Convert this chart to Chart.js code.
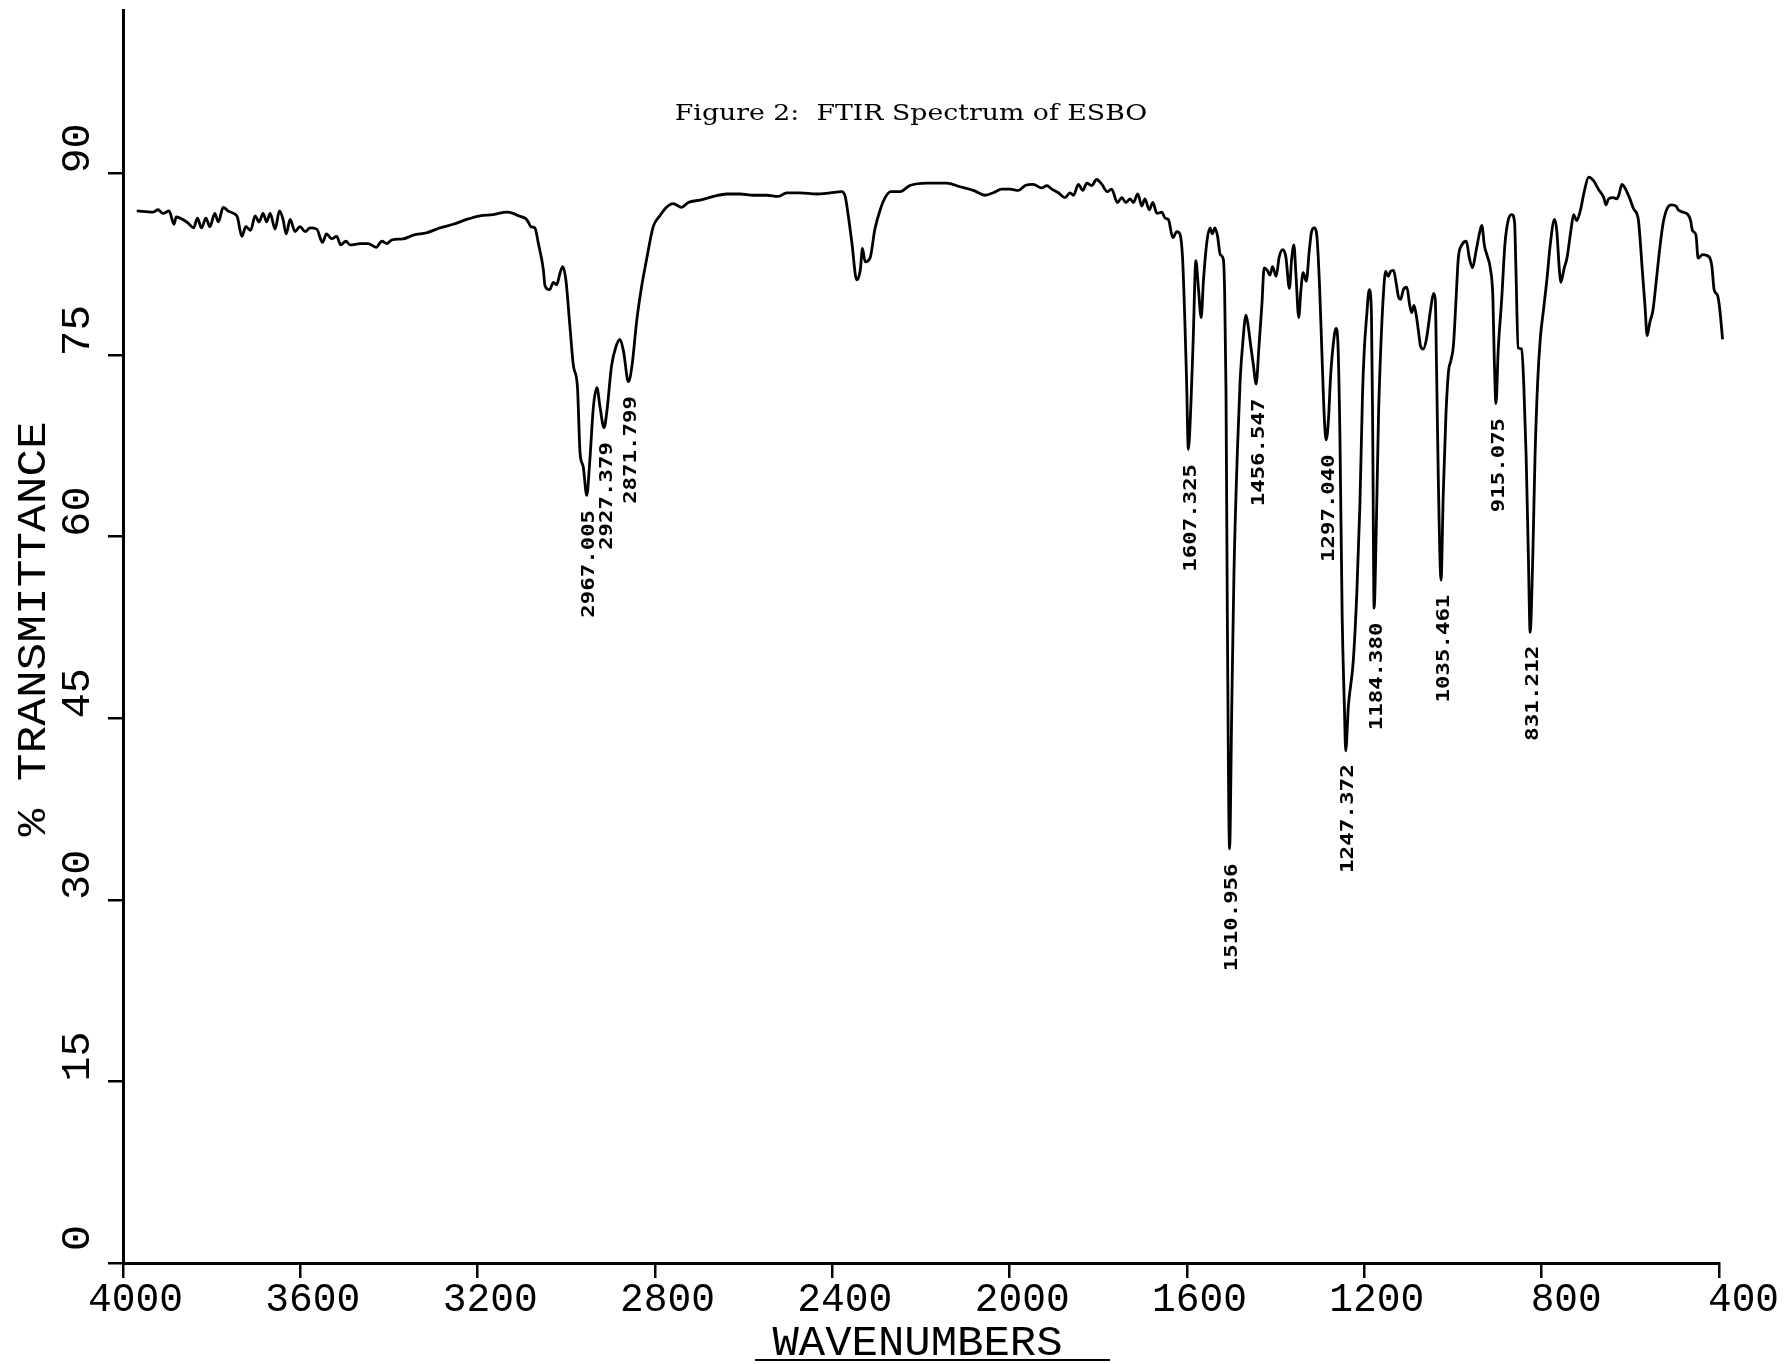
<!DOCTYPE html>
<html>
<head>
<meta charset="utf-8">
<script src="https://cdn.jsdelivr.net/npm/chart.js@4/dist/chart.umd.min.js"></script>
<style>
html,body{margin:0;padding:0;background:#fff;}
#c{display:block;}
</style>
</head>
<body>
<canvas id="c" width="1788" height="1364"></canvas>
<script>
// ---- data ----
const wavenumbers = [
3969,3932,3921,3910,3896,3885,3880,3865,3853,3841,
3832,3823,3813,3804,3793,3785,3774,3763,3751,3742,
3732,3723,3712,3702,3693,3684,3676,3668,3657,3647,
3639,3632,3623,3612,3601,3589,3578,3563,3550,3541,
3529,3518,3509,3497,3488,3465,3447,3429,3416,3405,
3394,3368,3345,3315,3285,3255,3225,3195,3165,3134,
3120,3108,3093,3086,3080,3071,3063,3052,3048,3038,
3029,3022,3014,3008,3001,2992,2984,2975,2969,2962,
2954,2947,2939,2931,2924,2915,2909,2898,2888,2879,
2871,2860,2852,2841,2830,2819,2804,2789,2774,2759,
2740,2725,2698,2668,2638,2608,2578,2548,2522,2503,
2473,2435,2405,2379,2371,2364,2356,2345,2337,2332,
2326,2315,2304,2292,2281,2268,2247,2225,2187,2142,
2112,2082,2055,2037,2018,1999,1980,1965,1947,1928,
1916,1905,1890,1875,1864,1856,1845,1835,1826,1815,
1804,1792,1780,1770,1757,1747,1738,1728,1721,1711,
1702,1695,1685,1677,1668,1657,1649,1642,1632,1623,
1616,1610,1605,1601,1597,1591,1586,1580,1574,1568,
1563,1555,1548,1543,1537,1531,1525,1518,1515,1512,
1509,1504,1499,1494,1486,1480,1474,1467,1462,1456,
1450,1444,1438,1431,1426,1419,1413,1407,1399,1392,
1384,1377,1369,1364,1359,1354,1348,1343,1338,1331,
1324,1319,1313,1307,1301,1296,1290,1286,1281,1276,
1270,1264,1260,1255,1250,1245,1242,1236,1225,1217,
1210,1204,1200,1195,1189,1184,1181,1178,1173,1168,
1163,1157,1152,1146,1141,1134,1128,1123,1118,1112,
1104,1098,1093,1088,1083,1078,1073,1067,1060,1050,
1044,1040,1037,1033,1027,1022,1016,1010,1005,999,
993,988,980,970,963,956,948,940,935,929,
922,916,910,907,903,898,890,883,875,867,
861,858,853,845,840,835,830,826,820,815,
809,803,796,788,781,771,766,760,757,749,
743,734,728,721,713,704,694,683,672,660,
655,649,638,631,626,619,612,601,593,582,
578,573,567,562,556,549,541,533,526,517,
507,497,492,481,470,464,460,452,447,437,
422,416,411,403,398,392
];
const transmittance = [
86.9,86.8,87.0,86.7,86.9,85.8,86.4,86.2,85.9,85.5,
86.3,85.5,86.3,85.6,86.7,86.0,87.2,86.9,86.7,86.4,
84.8,85.6,85.3,86.5,86.0,86.7,86.0,86.7,85.4,86.9,
86.2,85.0,86.2,85.2,85.6,85.2,85.5,85.4,84.3,85.0,
84.6,84.8,84.1,84.4,84.1,84.2,84.2,83.9,84.4,84.2,
84.5,84.6,84.9,85.1,85.5,85.8,86.2,86.5,86.6,86.8,
86.7,86.5,86.3,86.0,85.6,85.5,84.2,82.1,80.7,80.4,
81.0,80.8,81.8,82.3,81.2,77.4,74.1,72.4,66.9,65.8,
63.4,66.3,70.7,72.3,70.7,69.0,70.2,74.1,75.7,76.3,
75.3,72.8,74.1,77.9,80.7,82.9,85.6,86.5,87.2,87.5,
87.2,87.6,87.8,88.1,88.3,88.3,88.2,88.2,88.1,88.4,
88.4,88.3,88.4,88.5,88.1,86.5,84.3,81.2,82.0,83.8,
82.7,83.0,85.4,87.0,88.0,88.5,88.5,89.0,89.2,89.2,
88.9,88.6,88.2,88.4,88.7,88.7,88.6,89.0,89.1,88.8,
89.0,88.7,88.4,88.0,88.4,88.2,89.1,88.6,89.2,89.0,
89.5,89.1,88.5,88.7,87.6,88.0,87.6,87.9,87.6,88.3,
87.3,87.9,87.0,87.6,86.7,86.8,86.3,86.2,84.7,85.2,
85.0,83.0,78.0,73.0,67.2,71.1,76.3,82.8,80.4,78.1,
81.1,84.4,85.5,85.0,85.5,84.8,83.3,82.9,80.0,71.9,
53.4,34.2,46.0,57.1,67.4,73.0,76.1,78.3,77.4,75.7,
74.1,72.6,75.5,79.2,82.2,82.0,81.6,82.3,81.5,83.1,
83.7,83.1,80.5,82.9,84.1,81.5,78.1,80.4,81.8,81.1,
83.7,85.2,85.5,84.8,80.7,75.5,69.6,68.0,69.6,73.3,
75.9,77.2,76.3,68.2,53.4,46.0,42.3,46.0,49.7,55.3,
62.6,71.9,75.5,78.1,80.4,78.5,68.2,54.1,60.8,70.0,
75.5,80.0,81.9,81.5,81.9,82.0,80.9,79.8,79.6,80.4,
80.6,79.2,78.5,79.1,78.3,77.0,75.7,75.5,76.3,78.9,
80.1,79.6,73.7,64.5,56.4,63.5,70.0,73.7,74.5,75.8,
79.7,83.0,84.1,84.4,83.0,82.2,83.6,85.1,85.7,84.0,
83.1,82.2,79.7,74.8,71.0,75.4,79.7,84.1,86.2,86.6,
85.9,82.0,75.6,75.5,72.2,66.6,58.4,52.1,58.4,66.6,
72.8,76.4,78.7,81.3,84.0,86.2,85.3,82.0,81.0,82.2,
83.0,85.3,86.6,86.1,86.9,88.5,89.7,89.4,88.7,88.0,
87.4,87.9,88.0,87.9,88.2,89.1,88.8,87.9,87.1,86.2,
84.6,82.0,79.1,76.6,77.7,78.7,81.3,84.0,85.9,87.1,
87.4,87.3,87.0,86.8,86.6,86.1,85.3,84.9,83.0,83.3,
83.1,82.3,80.4,79.9,78.7,76.3
];
const xTicks = [4000,3600,3200,2800,2400,2000,1600,1200,800,400];
const yTicks = [0,15,30,45,60,75,90];
const peakLabels = ['2967.005','2927.379','2871.799','1607.325','1510.956','1456.547','1297.040','1247.372','1184.380','1035.461','915.075','831.212'];
const peakWavenumbers = [2954,2915,2860,1597,1504,1444,1286,1242,1178,1027,903,826];
const peakTransmittance = [63.4,69.0,72.8,67.2,34.2,72.6,68.0,42.3,54.1,56.4,71.0,52.1];
const titleText = 'Figure 2:  FTIR Spectrum of ESBO';
const xTitle = 'WAVENUMBERS';
const yTitle = '% TRANSMITTANCE';

// ---- text helper: draws text so its ink box has the given size, centred on (cx, cy) ----
function drawBox(ctx, text, cx, cy, tw, th, font, rot) {
  ctx.save();
  ctx.font = font;
  ctx.textAlign = 'left';
  ctx.textBaseline = 'alphabetic';
  const m = ctx.measureText(text);
  const w = m.actualBoundingBoxLeft + m.actualBoundingBoxRight;
  const h = m.actualBoundingBoxAscent + m.actualBoundingBoxDescent;
  ctx.translate(cx, cy);
  ctx.rotate(rot || 0);
  ctx.scale(tw / w, th ? th / h : tw / w);
  ctx.fillText(text, -w / 2 + m.actualBoundingBoxLeft, h / 2 - m.actualBoundingBoxDescent);
  ctx.restore();
}

const textPlugin = {
  id: 'plotterText',
  afterDraw(chart) {
    const ctx = chart.ctx;
    const xs = chart.scales.x, ys = chart.scales.y;
    ctx.save();
    ctx.fillStyle = '#000';
    ctx.strokeStyle = '#000';
    const plotFont = '40px "Liberation Mono", "DejaVu Sans Mono", monospace';

    // title
    drawBox(ctx, titleText, 911, 114, 470, 23, '22px "DejaVu Serif", serif', 0);

    // x tick labels
    xTicks.forEach(v => {
      const t = String(v);
      const w = 24 * t.length - 5;
      const right = xs.getPixelForValue(v) + 58;
      drawBox(ctx, t, right - w / 2, 1297, w, 28, plotFont, 0);
    });

    // y tick labels (rotated)
    yTicks.forEach(v => {
      const t = String(v);
      const L = 24 * t.length - 2;
      drawBox(ctx, t, 75, ys.getPixelForValue(v) - 25, L, 28, plotFont, -Math.PI / 2);
    });

    // axis titles
    drawBox(ctx, yTitle, 31, 630, 413, 27, plotFont, -Math.PI / 2);
    drawBox(ctx, xTitle, 917, 1340, 289, 29, plotFont, 0);
    ctx.lineWidth = 2;
    ctx.beginPath();
    ctx.moveTo(755, 1360);
    ctx.lineTo(1110, 1360);
    ctx.stroke();

    // peak labels
    peakLabels.forEach((t, i) => {
      const px = xs.getPixelForValue(peakWavenumbers[i]);
      const py = ys.getPixelForValue(peakTransmittance[i]);
      const L = 13.5 * t.length - 2;
      drawBox(ctx, t, px + 1, py + 15 + L / 2, L, 13, 'bold 19px "DejaVu Sans Mono", monospace', -Math.PI / 2);
    });
    ctx.restore();
  }
};

const axisCommon = {
  ticks: { display: false },
  grid: { drawOnChartArea: false, drawTicks: true, tickLength: 15, color: '#000', lineWidth: 2.5 },
  border: { display: true, color: '#000', width: 3 }
};

new Chart(document.getElementById('c'), {
  type: 'scatter',
  data: {
    datasets: [{
      data: wavenumbers.map((w, i) => ({ x: w, y: transmittance[i] })),
      showLine: true,
      borderColor: '#000',
      borderWidth: 2.8,
      pointRadius: 0,
      fill: false,
      cubicInterpolationMode: 'monotone',
      clip: false
    }]
  },
  options: {
    responsive: false,
    animation: false,
    devicePixelRatio: 1,
    layout: { padding: { left: 108, right: 69, top: 10, bottom: 86 } },
    plugins: { legend: { display: false }, tooltip: { enabled: false }, title: { display: false } },
    scales: {
      x: Object.assign({
        type: 'linear', reverse: true, min: 400, max: 4000,
        afterBuildTicks: s => { s.ticks = xTicks.map(v => ({ value: v })); }
      }, axisCommon),
      y: Object.assign({
        type: 'linear', min: 0, max: 103.5,
        afterBuildTicks: s => { s.ticks = yTicks.map(v => ({ value: v })); }
      }, axisCommon)
    }
  },
  plugins: [textPlugin]
});
</script>
</body>
</html>
